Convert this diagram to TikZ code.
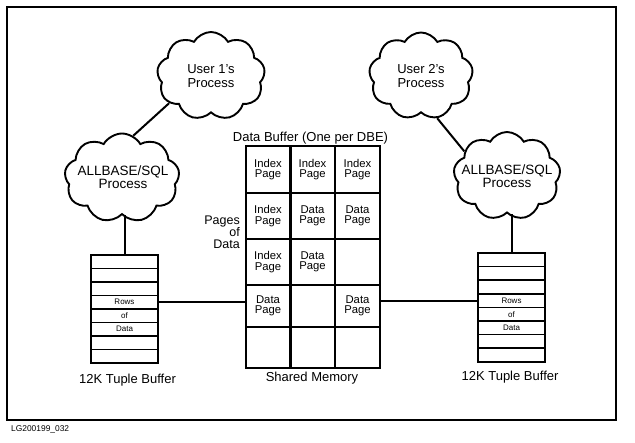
\documentclass[tikz,border=0pt]{standalone}
\usepackage{fontspec}
\setmainfont{Liberation Sans}
\usetikzlibrary{shapes.symbols}
\begin{document}
\begin{tikzpicture}[x=1pt,y=-1pt,
  ln/.style={line width=2pt},
  cloudbox/.style={cloud, cloud puffs=9, cloud puff arc=120, cloud ignores aspect, draw, line width=1.9pt, inner sep=0pt},
  lbl/.style={font=\fontsize{13}{14}\selectfont, align=center, inner sep=0pt},
  cellbox/.style={draw, line width=2pt, minimum width=45pt, inner sep=0pt, font=\fontsize{11.3}{10.5}\selectfont, align=center},
  rowbox/.style={draw, line width=1.7pt, minimum width=67pt, minimum height=13.6pt, inner sep=0pt, font=\fontsize{8}{8}\selectfont}
]
\useasboundingbox (0,0) rectangle (635,443);
% frame
\draw[line width=2.3pt] (7,7) rectangle (616,420);
\node[anchor=west, font=\fontsize{8.4}{9}\selectfont, inner sep=0pt] (fig) at (11,429) {LG200199\_032};

% clouds
\node[cloudbox, minimum width=108pt, minimum height=88pt] (u1) at (211,76) {};
\node[lbl] (u1t) at (211,76) {User 1's\\Process};
\node[cloudbox, minimum width=115pt, minimum height=89pt] (a1) at (122,178) {};
\node[lbl, font=\fontsize{13.5}{13}\selectfont] (a1t) at (123,177) {ALLBASE/SQL\\Process};
\node[cloudbox, minimum width=104pt, minimum height=87pt] (u2) at (421,76) {};
\node[lbl] (u2t) at (421,76) {User 2's\\Process};
\node[cloudbox, minimum width=107pt, minimum height=88pt] (a2) at (507,176) {};
\node[lbl, font=\fontsize{13.5}{13}\selectfont] (a2t) at (507,176) {ALLBASE/SQL\\Process};

% tuple buffers
\foreach \i/\t in {1/,2/,3/,4/Rows,5/of,6/Data,7/,8/}{
  \node[rowbox] (b1r\i) at (124.5,{255+13.5*(\i-0.5)}) {\t};
}
\foreach \i/\t in {1/,2/,3/,4/Rows,5/of,6/Data,7/,8/}{
  \node[rowbox] (b2r\i) at (511.5,{253+13.6*(\i-0.5)}) {\t};
}
\node[lbl] (tb1) at (127.5,380) {12K Tuple Buffer};
\node[lbl] (tb2) at (510,377) {12K Tuple Buffer};

% shared memory table
\node[cellbox, minimum height=47pt] (m11) at (268,169.5) {Index\\Page};
\node[cellbox, minimum height=47pt] (m12) at (312.5,169.5) {Index\\Page};
\node[cellbox, minimum height=47pt] (m13) at (357.5,169.5) {Index\\Page};
\node[cellbox, minimum height=46pt] (m21) at (268,216) {Index\\Page};
\node[cellbox, minimum height=46pt] (m22) at (312.5,216) {Data\\Page};
\node[cellbox, minimum height=46pt] (m23) at (357.5,216) {Data\\Page};
\node[cellbox, minimum height=46pt] (m31) at (268,262) {Index\\Page};
\node[cellbox, minimum height=46pt] (m32) at (312.5,262) {Data\\Page};
\node[cellbox, minimum height=46pt] (m33) at (357.5,262) {};
\node[cellbox, minimum height=42pt] (m41) at (268,306) {Data\\Page};
\node[cellbox, minimum height=42pt] (m42) at (312.5,306) {};
\node[cellbox, minimum height=42pt] (m43) at (357.5,306) {Data\\Page};
\node[cellbox, minimum height=41pt] (m51) at (268,347.5) {};
\node[cellbox, minimum height=41pt] (m52) at (312.5,347.5) {};
\node[cellbox, minimum height=41pt] (m53) at (357.5,347.5) {};
\node[lbl] (title) at (310.5,138) {Data Buffer (One per DBE)};
\node[lbl] (shm) at (312,378) {Shared Memory};
\node[lbl, align=right, anchor=east, font=\fontsize{12.5}{11.5}\selectfont] (pod) at (240,232) {Pages\\of\\Data};

% connectors
\draw[ln] (u1.213) -- (a1.75);
\draw[ln] (u2.291) -- (a2.150);
\draw[ln] (b1r1.north) -- (b1r1.north |- a1.south);
\draw[ln] (b2r1.north) -- (b2r1.north |- a2.south);
\draw[ln] (b1r4.east) -- (b1r4.east -| m41.west);
\draw[ln] (b2r4.west) -- (b2r4.west -| m43.east);
\end{tikzpicture}
\end{document}
